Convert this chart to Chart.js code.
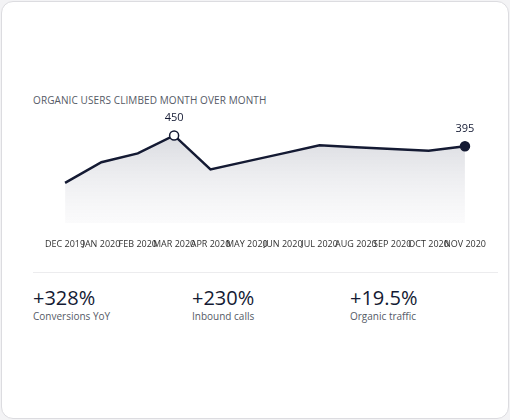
<!DOCTYPE html>
<html>
<head>
<meta charset="utf-8">
<script src="https://cdn.jsdelivr.net/npm/chart.js@4"></script>
<style>
  body { margin: 0; background: #f3f3f5; font-family: "Open Sans", "Noto Sans", sans-serif; }
  .card { position: absolute; left: 1px; top: 1px; width: 506px; height: 416px; background: #fff;
          border: 1px solid #dcdce0; border-radius: 12px; }
  .title { position: absolute; left: 33px; top: 93px; font-size: 10px; color: #555a66; letter-spacing: 0.1px; }
  .chartBox { position: absolute; left: 37px; top: 108px; width: 457px; height: 150px; }
  .sep { position: absolute; left: 33px; top: 272px; width: 465px; height: 1px; background: #ececee; }
  .stat { position: absolute; top: 284px; }
  .stat .v { font-size: 20px; color: #141a33; }
  .stat .l { font-size: 10px; color: #555a66; margin-top: -2px; }
</style>
</head>
<body>
<div class="card"></div>
<div class="title">ORGANIC USERS CLIMBED MONTH OVER MONTH</div>
<div class="chartBox"><canvas id="c"></canvas></div>
<div class="sep"></div>
<div class="stat" style="left:33px"><div class="v">+328%</div><div class="l">Conversions YoY</div></div>
<div class="stat" style="left:192px"><div class="v">+230%</div><div class="l">Inbound calls</div></div>
<div class="stat" style="left:350px"><div class="v">+19.5%</div><div class="l">Organic traffic</div></div>
<script>
const months = ['DEC 2019', 'JAN 2020', 'FEB 2020', 'MAR 2020', 'APR 2020', 'MAY 2020',
                'JUN 2020', 'JUL 2020', 'AUG 2020', 'SEP 2020', 'OCT 2020', 'NOV 2020'];
const users = [207, 313, 358, 450, 276, 317, 358, 400, 390, 381, 372, 395];
const labelled = [3, 11];

const ink = '#141a33';

// value labels above the marked points
const pointLabels = {
  id: 'pointLabels',
  afterDatasetsDraw(chart) {
    const ctx = chart.ctx;
    const meta = chart.getDatasetMeta(0);
    ctx.save();
    ctx.font = '11px "Open Sans", sans-serif';
    ctx.fillStyle = ink;
    ctx.textAlign = 'center';
    labelled.forEach(i => {
      const p = meta.data[i];
      ctx.fillText(users[i], p.x, p.y - 14);
    });
    ctx.restore();
  }
};

new Chart(document.getElementById('c'), {
  type: 'line',
  data: {
    labels: months,
    datasets: [{
      data: users,
      borderColor: ink,
      borderWidth: 2.5,
      tension: 0,
      fill: 'origin',
      backgroundColor: (context) => {
        const area = context.chart.chartArea;
        if (!area) return 'rgba(200,202,210,0.6)';
        const g = context.chart.ctx.createLinearGradient(0, area.top, 0, area.bottom);
        g.addColorStop(0, 'rgba(196,198,206,0.85)');
        g.addColorStop(1, 'rgba(240,240,243,0.3)');
        return g;
      },
      pointRadius: users.map((_, i) => labelled.includes(i) ? 4.5 : 0),
      pointBackgroundColor: users.map((_, i) => i === 3 ? '#fff' : ink),
      pointBorderColor: ink,
      pointBorderWidth: 1.5
    }]
  },
  options: {
    responsive: true,
    maintainAspectRatio: false,
    animation: false,
    layout: { padding: { top: 0 } },
    plugins: { legend: { display: false }, tooltip: { enabled: false } },
    scales: {
      x: {
        offset: false,
        grid: { display: false },
        border: { display: false },
        ticks: { autoSkip: false, maxRotation: 0, color: '#333', font: { size: 9, family: '"Open Sans", sans-serif' }, padding: 8 }
      },
      y: { display: false, min: 0, max: 560 }
    }
  },
  plugins: [pointLabels]
});
</script>
</body>
</html>
